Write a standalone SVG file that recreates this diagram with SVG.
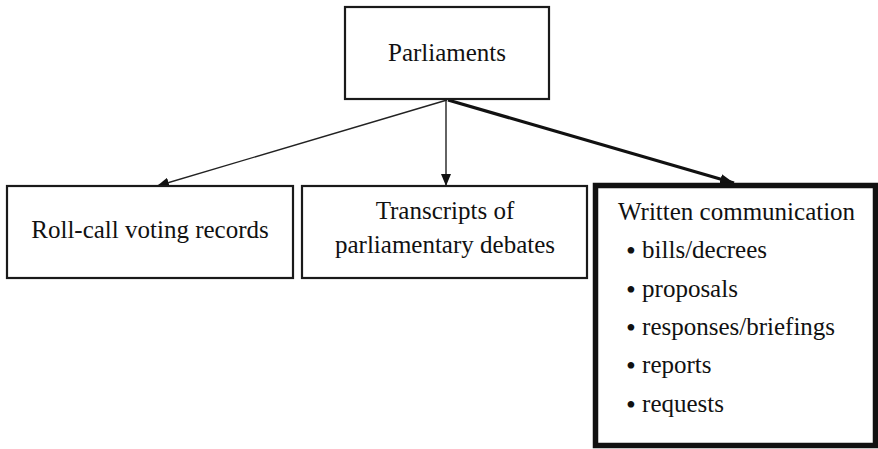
<svg xmlns="http://www.w3.org/2000/svg" width="878" height="449" viewBox="0 0 878 449">
<style>
text{font-family:"Liberation Serif","Times New Roman",serif;font-size:25px;fill:#111}
.b{font-size:28px}
.box{fill:#fff;stroke:#1a1a1a;stroke-width:2.2}
.thick{fill:#fff;stroke:#111;stroke-width:5.5}
.edge{stroke:#222;stroke-width:1.4;fill:none}
.edge-bold{stroke:#111;stroke-width:3.2;fill:none}
</style>
<defs>
<marker id="ah" viewBox="0 0 12 10" refX="12" refY="5" markerWidth="12" markerHeight="10" markerUnits="userSpaceOnUse" orient="auto">
<path d="M0,0 L12,5 L0,10 Z" fill="#111"/>
</marker>
<marker id="ahb" viewBox="0 0 14 10" refX="14" refY="5" markerWidth="14" markerHeight="10" markerUnits="userSpaceOnUse" orient="auto">
<path d="M0,0 L14,5 L0,10 Z" fill="#111"/>
</marker>
</defs>
<g id="connectors">
<line class="edge" x1="447" y1="100" x2="157" y2="186" marker-end="url(#ah)"/>
<line class="edge" x1="446" y1="100" x2="446" y2="186" marker-end="url(#ah)"/>
<line class="edge-bold" x1="448" y1="100" x2="734" y2="183" marker-end="url(#ahb)"/>
</g>
<g id="parliaments">
<rect class="box" x="345" y="7" width="204" height="92"/>
<text x="447" y="61" text-anchor="middle">Parliaments</text>
</g>
<g id="rollcall">
<rect class="box" x="7" y="186" width="286" height="92"/>
<text x="150" y="238" text-anchor="middle">Roll-call voting records</text>
</g>
<g id="transcripts">
<rect class="box" x="302" y="186" width="285" height="92"/>
<text x="445" y="219" text-anchor="middle">Transcripts of</text>
<text x="445" y="253" text-anchor="middle">parliamentary debates</text>
</g>
<g id="written">
<rect class="thick" x="595.5" y="185.5" width="280" height="260"/>
<text x="618" y="220">Written communication</text>
<text x="626" y="258"><tspan class="b" dy="2">•</tspan><tspan dy="-2"> bills/decrees</tspan></text>
<text x="626" y="297"><tspan class="b" dy="2">•</tspan><tspan dy="-2"> proposals</tspan></text>
<text x="626" y="335"><tspan class="b" dy="2">•</tspan><tspan dy="-2"> responses/briefings</tspan></text>
<text x="626" y="373"><tspan class="b" dy="2">•</tspan><tspan dy="-2"> reports</tspan></text>
<text x="626" y="412"><tspan class="b" dy="2">•</tspan><tspan dy="-2"> requests</tspan></text>
</g>
</svg>
